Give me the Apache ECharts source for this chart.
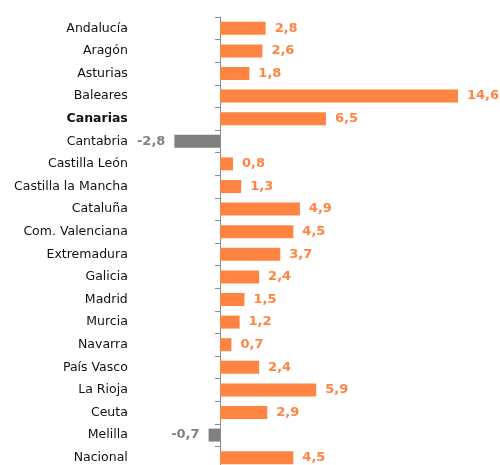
<!DOCTYPE html>
<html><head><meta charset="utf-8">
<script src="https://cdn.jsdelivr.net/npm/echarts@6/dist/echarts.min.js"></script>
<style>html,body{margin:0;padding:0;background:#fff}#c{width:500px;height:465px}</style>
</head><body><div id="c"></div>
<script>
const categories = ["Andalucía","Aragón","Asturias","Baleares","Canarias","Cantabria","Castilla León","Castilla la Mancha","Cataluña","Com. Valenciana","Extremadura","Galicia","Madrid","Murcia","Navarra","País Vasco","La Rioja","Ceuta","Melilla","Nacional"];
const values = [2.8,2.6,1.8,14.6,6.5,-2.8,0.8,1.3,4.9,4.5,3.7,2.4,1.5,1.2,0.7,2.4,5.9,2.9,-0.7,4.5];
const highlighted = "Canarias";

const ORANGE = '#FF8442', GRAY = '#808080';
const chart = echarts.init(document.getElementById('c'));
chart.setOption({
  animation: false,
  grid: { left: 154.8, right: 19.2, top: 17, height: 452, containLabel: false, outerBoundsMode: 'none' },
  xAxis: { type: 'value', min: -4, max: 16, show: false },
  yAxis: {
    type: 'category', data: categories, inverse: true,
    axisLine: { onZero: true, lineStyle: { color: '#8c8c8c', width: 1 } },
    axisTick: { show: true, length: 5, lineStyle: { color: '#8c8c8c' } },
    axisLabel: {
      margin: 27, color: '#111', fontFamily: 'DejaVu Sans', fontSize: 12.5,
      formatter: v => v === highlighted ? '{b|' + v + '}' : v,
      rich: { b: { fontWeight: 'bold', fontFamily: 'DejaVu Sans', fontSize: 12.5, color: '#111' } }
    }
  },
  series: [{
    type: 'bar', barWidth: 13,
    data: values.map(v => ({
      value: v,
      itemStyle: { color: v < 0 ? GRAY : ORANGE },
      label: { position: v < 0 ? 'left' : 'right', color: v < 0 ? GRAY : ORANGE }
    })),
    label: {
      show: true, distance: 9, fontFamily: 'DejaVu Sans', fontWeight: 'bold', fontSize: 13,
      formatter: p => String(p.value).replace('.', ',')
    }
  }]
});
</script></body></html>
